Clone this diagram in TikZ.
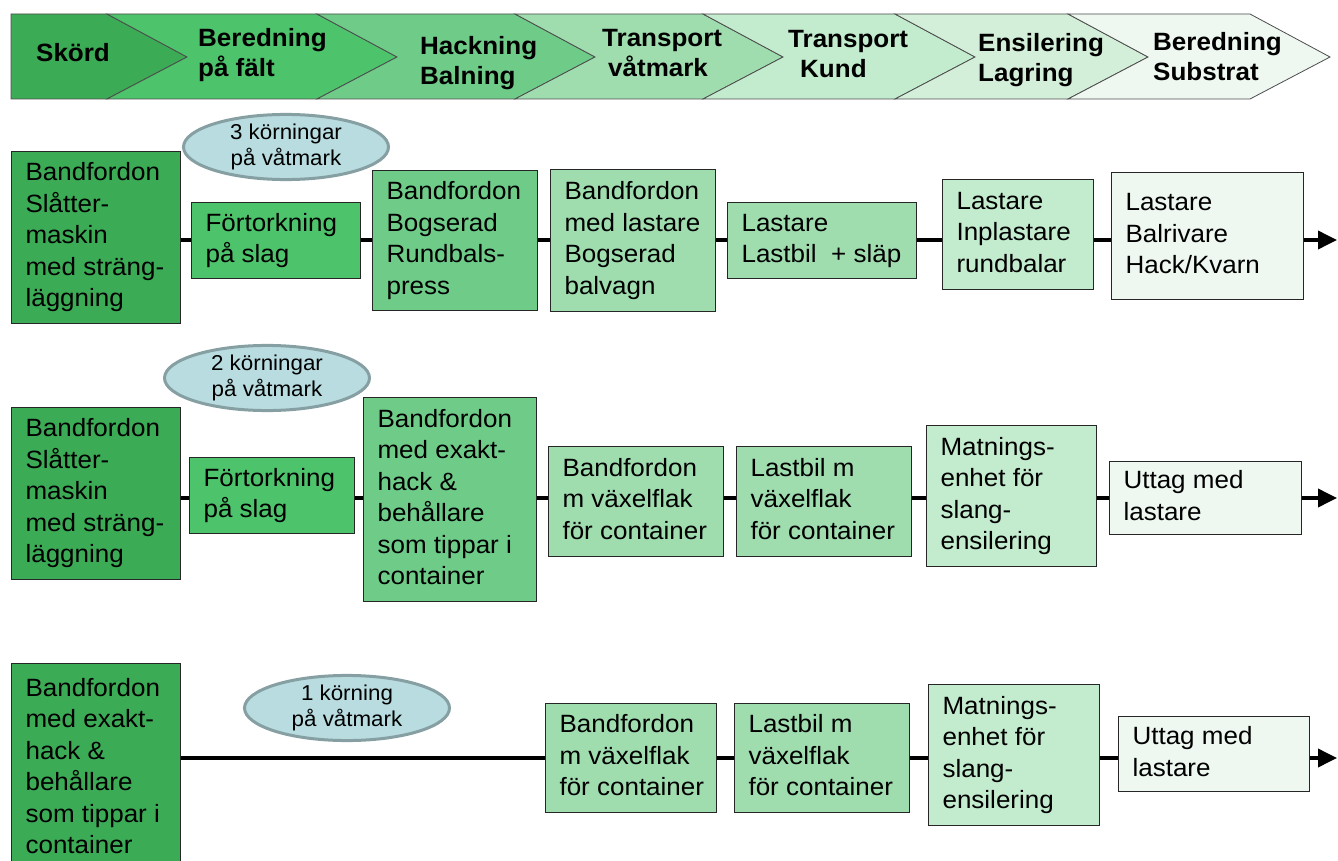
\documentclass[tikz,border=0pt]{standalone}
\usepackage{fontspec}
\setmainfont{Liberation Sans}[FakeStretch=1.04]
\usetikzlibrary{arrows.meta,shapes.geometric}

\definecolor{gA}{HTML}{3CAB55}
\definecolor{gB}{HTML}{4DC36B}
\definecolor{gC}{HTML}{6ECC88}
\definecolor{gD}{HTML}{9FDDAF}
\definecolor{gE}{HTML}{C3EBCE}
\definecolor{gF}{HTML}{D3EFDA}
\definecolor{gG}{HTML}{EEF8F1}
\definecolor{ovalfill}{HTML}{B8DCE0}
\definecolor{ovaledge}{HTML}{869FA2}

\tikzset{
  stepbox/.style={draw=black!85, line width=1.1pt, inner sep=0pt,
    anchor=north west, font=\fontsize{25}{31.5}\selectfont},
  hdr/.style={inner sep=0pt, anchor=base west, font=\bfseries\fontsize{25}{30}\selectfont},
  oval/.style={ellipse, draw=ovaledge, fill=ovalfill, line width=3pt, inner sep=0pt,
    minimum width=205pt, minimum height=65pt, align=center,
    font=\fontsize{21.5}{26}\selectfont},
  conn/.style={line width=3.6pt, black},
  tip/.style={conn, -{Triangle[length=19pt,width=18pt]}},
  chevline/.style={draw=black!70, line width=0.8pt}
}

% process box: name, left, top, right, bottom, fill, lines of text (left padding 14pt)
\newcommand\flowbox[7]{%
  \pgfmathsetmacro\bw{#4-#2}\pgfmathsetmacro\bh{#5-#3}%
  \node[stepbox, fill=#6, minimum width=\bw pt, minimum height=\bh pt]
    (#1) at (#2,#3)
    {\makebox[\bw pt][l]{\begin{tabular}{@{\hspace{14pt}}l@{}}#7\end{tabular}}};}

% header chevron between two notch positions
\newcommand\chev[3]{%
  \path[chevline, fill=#3] (#1,14) -- (#2,14) -- (#2+80,57) -- (#2,99) -- (#1,99) -- (#1+80,57) -- cycle;}

\newcommand\hdrlines[2]{\vtop{\hbox{#1}\hbox{#2}}}

\begin{document}
\begin{tikzpicture}[x=1pt,y=-1pt]
\useasboundingbox (0,0) rectangle (1338,861);
\clip (0,0) rectangle (1338,861);

% ---- phase header ----
\path[chevline, fill=gA] (11,14) -- (107,14) -- (187,57) -- (107,99) -- (11,99) -- cycle;
\chev{107}{317}{gB}
\chev{317}{515}{gC}
\chev{515}{703}{gD}
\chev{703}{895}{gE}
\chev{895}{1068}{gF}
\chev{1068}{1250}{gG}

\node[hdr] (h1) at (36,62) {Skörd};
\node[hdr] (h2) at (198,47) {\hdrlines{Beredning}{på fält}};
\node[hdr] (h3) at (420,55) {\hdrlines{Hackning}{Balning}};
\node[hdr] (h4) at (602,47) {\hdrlines{Transport}{\hspace{6pt}våtmark}};
\node[hdr] (h5) at (788,48) {\hdrlines{Transport}{\hspace{12pt}Kund}};
\node[hdr] (h6) at (978,52) {\hdrlines{Ensilering}{Lagring}};
\node[hdr] (h7) at (1153,51) {\hdrlines{Beredning}{Substrat}};

% ---- chain 1: round bales ----
\coordinate (r1) at (0,240);
\flowbox{a1}{11}{151}{180}{323}{gA}{Bandfordon\\Slåtter-\\maskin\\med sträng-\\läggning}
\flowbox{b1}{191}{202}{360}{278}{gB}{Förtorkning\\på slag}
\flowbox{c1}{372}{170}{537}{310}{gC}{Bandfordon\\Bogserad\\Rundbals-\\press}
\flowbox{d1}{550}{169}{715}{311}{gD}{Bandfordon\\med lastare\\Bogserad\\balvagn}
\flowbox{e1}{727}{202}{916}{278}{gD}{Lastare\\Lastbil~ + släp}
\flowbox{f1}{942}{179}{1093}{289}{gE}{Lastare\\Inplastare\\rundbalar}
\flowbox{g1}{1111}{172}{1303}{299}{gG}{Lastare\\Balrivare\\Hack/Kvarn}
\coordinate (end1) at (1337,240);
\node[oval] (o1) at (286,147) {3 körningar\\på våtmark};

\draw[conn] (a1.east |- r1) -- (b1.west |- r1);
\draw[conn] (b1.east |- r1) -- (c1.west |- r1);
\draw[conn] (c1.east |- r1) -- (d1.west |- r1);
\draw[conn] (d1.east |- r1) -- (e1.west |- r1);
\draw[conn] (e1.east |- r1) -- (f1.west |- r1);
\draw[conn] (f1.east |- r1) -- (g1.west |- r1);
\draw[tip] (g1.east |- r1) -- (end1);

% ---- chain 2: chopped, pre-dried ----
\coordinate (r2) at (0,498);
\flowbox{a2}{11}{407}{180}{579}{gA}{Bandfordon\\Slåtter-\\maskin\\med sträng-\\läggning}
\flowbox{b2}{189}{457}{354}{533}{gB}{Förtorkning\\på slag}
\flowbox{c2}{363}{397}{536}{601}{gC}{Bandfordon\\med exakt-\\hack \&\\behållare\\som tippar i\\container}
\flowbox{d2}{548}{446}{723}{556}{gD}{Bandfordon\\m växelflak\\för container}
\flowbox{e2}{736}{446}{911}{556}{gD}{Lastbil m\\växelflak\\för container}
\flowbox{f2}{926}{425}{1096}{566}{gE}{Matnings-\\enhet för\\slang-\\ensilering}
\flowbox{g2}{1109}{461}{1301}{534}{gG}{Uttag med\\lastare}
\coordinate (end2) at (1337,498);
\node[oval] (o2) at (267,378) {2 körningar\\på våtmark};

\draw[conn] (a2.east |- r2) -- (b2.west |- r2);
\draw[conn] (b2.east |- r2) -- (c2.west |- r2);
\draw[conn] (c2.east |- r2) -- (d2.west |- r2);
\draw[conn] (d2.east |- r2) -- (e2.west |- r2);
\draw[conn] (e2.east |- r2) -- (f2.west |- r2);
\draw[conn] (f2.east |- r2) -- (g2.west |- r2);
\draw[tip] (g2.east |- r2) -- (end2);

% ---- chain 3: direct chopping ----
\coordinate (r3) at (0,758);
\flowbox{a3}{11}{663}{180}{873}{gA}{Bandfordon\\med exakt-\\hack \&\\behållare\\som tippar i\\container}
\flowbox{d3}{545}{703}{716}{812}{gD}{Bandfordon\\m växelflak\\för container}
\flowbox{e3}{734}{703}{909}{812}{gD}{Lastbil m\\växelflak\\för container}
\flowbox{f3}{928}{684}{1099}{825}{gE}{Matnings-\\enhet för\\slang-\\ensilering}
\flowbox{g3}{1118}{716}{1309}{791}{gG}{Uttag med\\lastare}
\coordinate (end3) at (1337,758);
\node[oval] (o3) at (347,708) {1 körning\\på våtmark};

\draw[conn] (a3.east |- r3) -- (d3.west |- r3);
\draw[conn] (d3.east |- r3) -- (e3.west |- r3);
\draw[conn] (e3.east |- r3) -- (f3.west |- r3);
\draw[conn] (f3.east |- r3) -- (g3.west |- r3);
\draw[tip] (g3.east |- r3) -- (end3);
\end{tikzpicture}
\end{document}
